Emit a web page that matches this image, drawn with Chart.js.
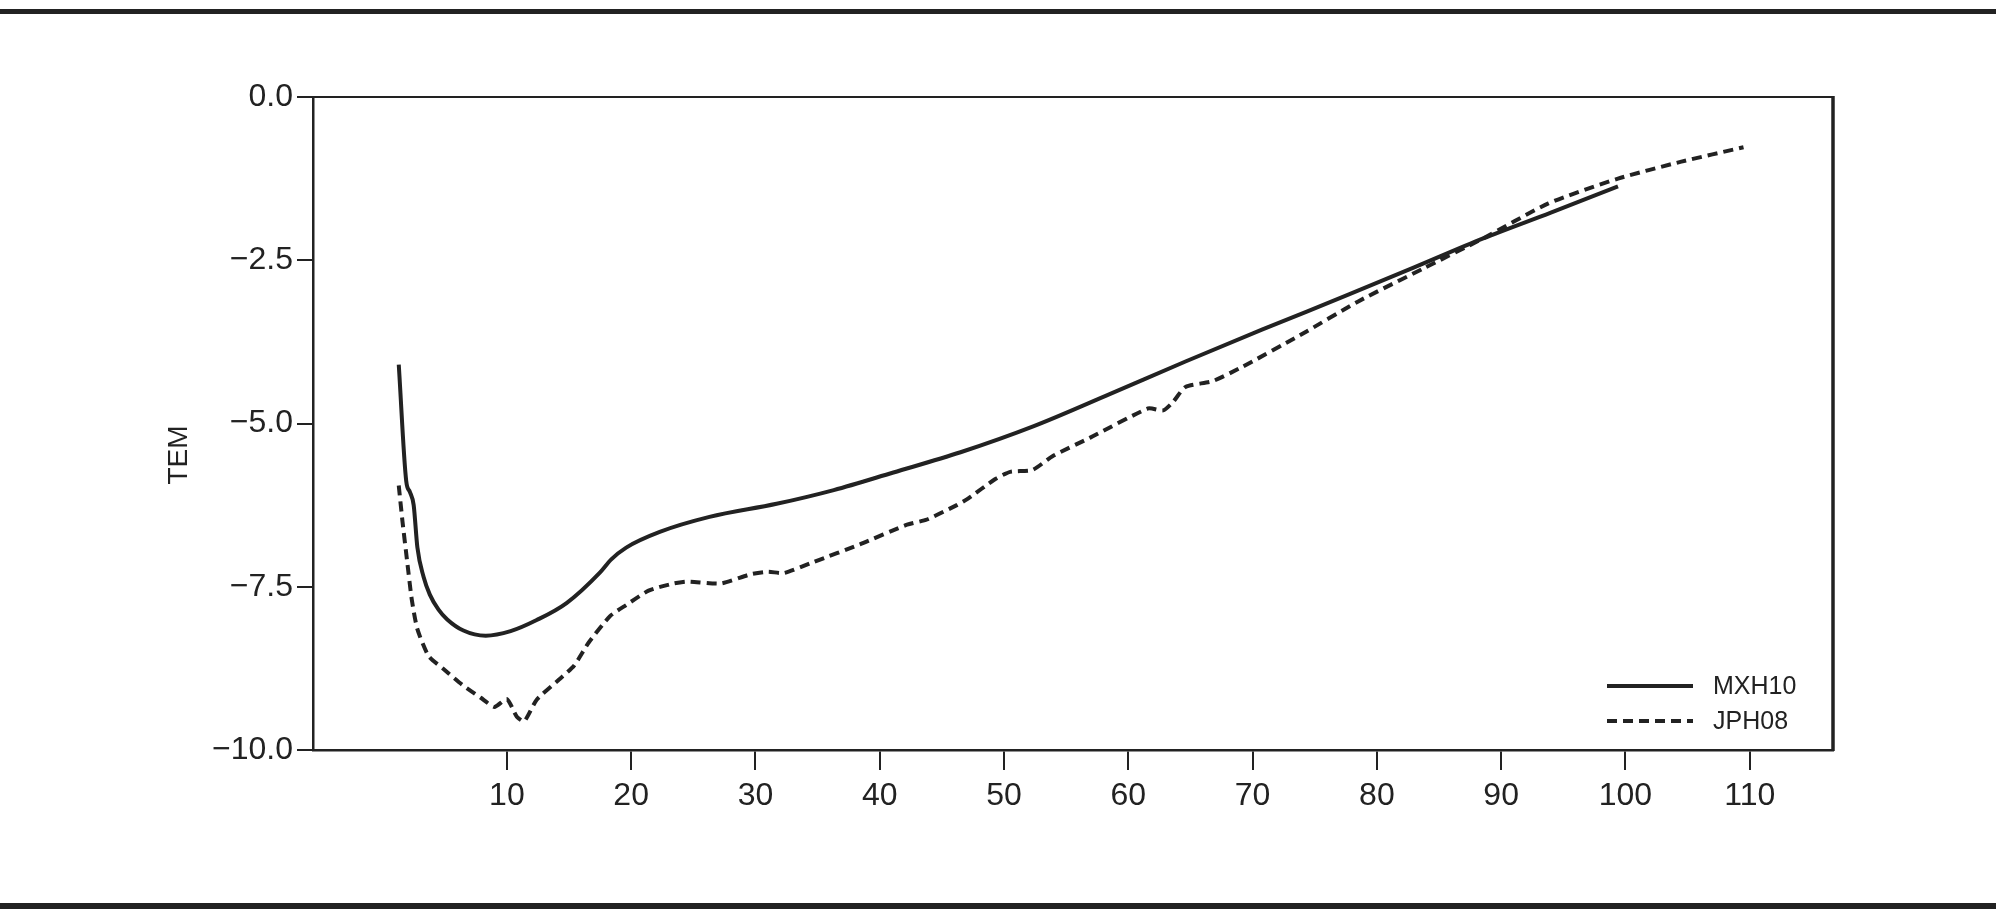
<!DOCTYPE html>
<html>
<head>
<meta charset="utf-8">
<script src="https://cdn.jsdelivr.net/npm/chart.js@4/dist/chart.umd.min.js"></script>
<style>
  html, body { margin: 0; padding: 0; background: #fff; }
  #wrap { width: 1996px; height: 915px; position: relative; }
</style>
</head>
<body>
<div id="wrap"><canvas id="myChart" width="1996" height="915"></canvas></div>
<script>
// MXH10 (solid)
var mxhX = [1.3, 1.9, 2.2, 2.5, 2.8, 3.3, 3.8, 4.5, 5.2, 6.5, 8.3, 10.3, 12.4, 14.8, 17.5, 18.4, 19.6, 22.3, 26.3, 31.7, 36.3, 41.1, 46.5, 52.4, 58.5, 64.6, 70.8, 77.8, 83, 88.5, 94, 99.4];
var mxhY = [-4.1, -5.88, -6.05, -6.25, -6.9, -7.35, -7.62, -7.85, -8.0, -8.17, -8.25, -8.18, -8.01, -7.75, -7.28, -7.08, -6.9, -6.66, -6.43, -6.23, -6.02, -5.75, -5.44, -5.04, -4.55, -4.05, -3.56, -3.02, -2.61, -2.17, -1.77, -1.37];

// JPH08 (dashed)
var jphX = [1.3, 1.6, 2.0, 2.35, 2.8, 3.7, 4.9, 6.4, 7.9, 9.0, 10.0, 10.8, 11.4, 12.4, 14.2, 15.4, 16.6, 18.3, 19.6, 21.4, 23.4, 24.5, 27.2, 29.6, 31.0, 32.3, 34.7, 38.4, 42.2, 43.8, 46.2, 47.1, 49.3, 50.5, 52.3, 53.9, 56.9, 61.6, 62.8, 63.6, 64.6, 66.8, 69.2, 73.8, 78.5, 83.8, 88.5, 93.8, 99.4, 104.5, 109.5];
var jphY = [-5.95, -6.5, -7.15, -7.7, -8.15, -8.56, -8.76, -9.0, -9.2, -9.34, -9.22, -9.49, -9.56, -9.23, -8.92, -8.71, -8.35, -7.95, -7.78, -7.56, -7.45, -7.42, -7.45, -7.31, -7.27, -7.29, -7.12, -6.85, -6.55, -6.47, -6.25, -6.15, -5.85, -5.74, -5.71, -5.5, -5.22, -4.77, -4.8, -4.67, -4.44, -4.35, -4.13, -3.65, -3.13, -2.62, -2.17, -1.63, -1.25, -0.99, -0.77];

var xTicks = [10, 20, 30, 40, 50, 60, 70, 80, 90, 100, 110];
var yTicks = [0, -2.5, -5, -7.5, -10];
var seriesNames = ['MXH10', 'JPH08'];

var ink = '#222222';
var fam = '"Liberation Sans", Arial, Helvetica, sans-serif';

function pares(xs, ys) {
    var out = [];
    for (let i = 0; i < xs.length; i++) out.push({ x: xs[i], y: ys[i] });
    return out;
}

// marco, lineas de pagina, leyenda y titulo del eje
const extras = {
    id: 'extras',
    afterDraw(chart) {
        const ctx = chart.ctx;
        const a = chart.chartArea;
        ctx.save();
        ctx.fillStyle = ink;
        ctx.fillRect(0, 9, 1996, 5);
        ctx.fillRect(0, 903, 1996, 6);

        ctx.strokeStyle = ink;
        ctx.lineWidth = 2;
        ctx.beginPath();
        ctx.moveTo(a.left, a.top);
        ctx.lineTo(a.right, a.top);
        ctx.stroke();
        ctx.lineWidth = 3.5;
        ctx.beginPath();
        ctx.moveTo(a.right, a.top - 1);
        ctx.lineTo(a.right, a.bottom + 1);
        ctx.stroke();

        // leyenda
        ctx.font = '25px ' + fam;
        ctx.textBaseline = 'middle';
        ctx.fillStyle = ink;
        chart.data.datasets.forEach(function (ds, i) {
            const y = a.bottom - 64 + i * 35;
            ctx.lineWidth = ds.borderWidth;
            ctx.setLineDash(ds.borderDash || []);
            ctx.beginPath();
            ctx.moveTo(a.right - 226, y);
            ctx.lineTo(a.right - 140, y);
            ctx.stroke();
            ctx.setLineDash([]);
            ctx.fillText(ds.label, a.right - 120, y + 1);
        });

        // titulo del eje y
        ctx.translate(179, 455);
        ctx.rotate(-Math.PI / 2);
        ctx.font = '28px ' + fam;
        ctx.textAlign = 'center';
        ctx.fillText('TEM', 0, 0);
        ctx.restore();
    }
};

const data = {
    datasets: [{
        label: seriesNames[0],
        data: pares(mxhX, mxhY),
        borderColor: ink,
        borderWidth: 4,
        pointRadius: 0,
        tension: 0.4,
        cubicInterpolationMode: 'monotone'
    }, {
        label: seriesNames[1],
        data: pares(jphX, jphY),
        borderColor: ink,
        borderWidth: 4,
        borderDash: [10, 6],
        pointRadius: 0,
        tension: 0.2
    }]
};

const config = {
    type: 'line',
    data: data,
    options: {
        responsive: false,
        animation: false,
        layout: { padding: { left: 0, top: 97, right: 163, bottom: 0 } },
        plugins: { legend: { display: false }, tooltip: { enabled: false } },
        scales: {
            x: {
                type: 'linear',
                min: -5.6,
                max: 116.7,
                afterFit: function (s) { s.height = 165; },
                afterBuildTicks: function (s) { s.ticks = xTicks.map(v => ({ value: v })); },
                border: { color: ink, width: 2.5 },
                grid: { drawOnChartArea: false, color: ink, lineWidth: 2, tickLength: 20 },
                ticks: { color: ink, font: { family: fam, size: 32 }, padding: 7, maxRotation: 0 }
            },
            y: {
                type: 'linear',
                min: -10,
                max: 0,
                afterFit: function (s) { s.width = 313; },
                afterBuildTicks: function (s) { s.ticks = yTicks.map(v => ({ value: v })); },
                border: { color: ink, width: 2.5 },
                grid: { drawOnChartArea: false, color: ink, lineWidth: 2, tickLength: 16 },
                ticks: {
                    color: ink, font: { family: fam, size: 32 }, padding: 4,
                    callback: function (v) { return v.toFixed(1).replace('-', '\u2212'); }
                }
            }
        }
    },
    plugins: [extras]
};

const myChart = new Chart(document.getElementById('myChart'), config);
</script>
</body>
</html>
